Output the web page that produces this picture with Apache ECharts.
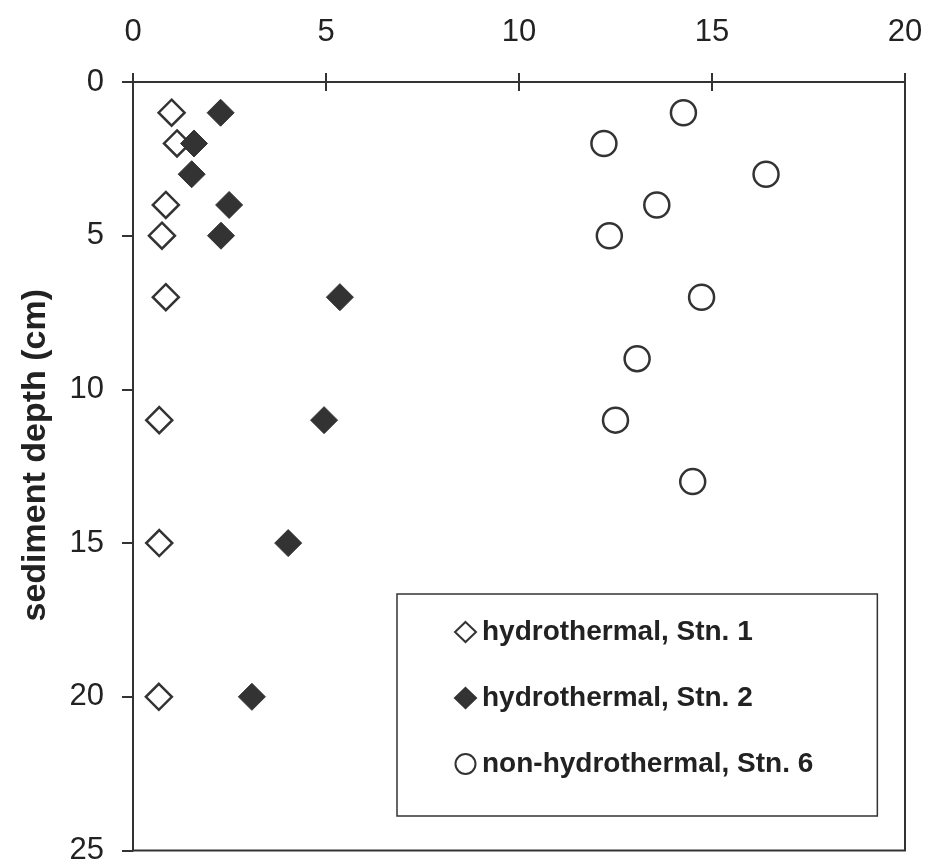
<!DOCTYPE html>
<html>
<head>
<meta charset="utf-8">
<script src="https://cdn.jsdelivr.net/npm/echarts@6/dist/echarts.min.js"></script>
<style>
html,body{margin:0;padding:0;background:#fff;}
#c{width:928px;height:866px;}
</style>
</head>
<body>
<div id="c"></div>
<script>
var xTicks = [0, 5, 10, 15, 20];
var yTicks = [0, 5, 10, 15, 20, 25];
var seriesNames = ['hydrothermal, Stn. 1', 'hydrothermal, Stn. 2', 'non-hydrothermal, Stn. 6'];
var depthStn1 = [1, 2, 4, 5, 7, 11, 15, 20];
var valueStn1 = [1.0, 1.14, 0.85, 0.75, 0.85, 0.68, 0.68, 0.67];
var depthStn2 = [1, 2, 3, 4, 5, 7, 11, 15, 20];
var valueStn2 = [2.27, 1.58, 1.52, 2.49, 2.28, 5.36, 4.95, 4.02, 3.08];
var depthStn6 = [1, 2, 3, 4, 5, 7, 9, 11, 13];
var valueStn6 = [14.26, 12.2, 16.4, 13.57, 12.34, 14.73, 13.06, 12.5, 14.5];

function pairs(vals, depths) {
  return vals.map(function (v, i) { return [v, depths[i]]; });
}

var ink = '#333';
var font = 'Liberation Sans, Arial, sans-serif';
var chart = echarts.init(document.getElementById('c'), null, {renderer: 'canvas'});
chart.setOption({
  animation: false,
  backgroundColor: '#fff',
  grid: {left: 133, top: 82, width: 772, height: 770, show: true, borderColor: ink, borderWidth: 2, backgroundColor: 'transparent'},
  xAxis: [{
    type: 'value', position: 'top', min: xTicks[0], max: xTicks[xTicks.length - 1], interval: 5,
    axisLine: {show: true, onZero: false, lineStyle: {color: ink, width: 2}},
    axisTick: {show: true, length: 9, lineStyle: {color: ink, width: 2}},
    axisLabel: {color: '#222', fontSize: 31, fontFamily: font, margin: 34},
    splitLine: {show: false}
  }, {
    type: 'value', position: 'top', min: xTicks[0], max: xTicks[xTicks.length - 1], interval: 5,
    axisLine: {show: false},
    axisTick: {show: true, inside: true, length: 9, lineStyle: {color: ink, width: 2}},
    axisLabel: {show: false},
    splitLine: {show: false}
  }],
  yAxis: {
    type: 'value', inverse: true, min: yTicks[0], max: yTicks[yTicks.length - 1], interval: 5,
    name: 'sediment depth (cm)', nameLocation: 'middle', nameGap: 80,
    nameTextStyle: {color: '#222', fontSize: 34, fontWeight: 'bold', fontFamily: font, padding: [0, 0, 0, 22]},
    axisLine: {show: true, onZero: false, lineStyle: {color: ink, width: 2}},
    axisTick: {show: true, length: 11, lineStyle: {color: ink, width: 2}},
    axisLabel: {color: '#222', fontSize: 31, fontFamily: font, margin: 29},
    splitLine: {show: false}
  },
  legend: {
    orient: 'vertical', left: 397, top: 594,
    padding: [24, 64, 38, 57],
    itemGap: 38, itemWidth: 21, itemHeight: 20,
    borderColor: ink, borderWidth: 1.5,
    textStyle: {color: '#222', fontSize: 28, fontWeight: 'bold', fontFamily: font, padding: [0, 0, 0, 1]},
    data: seriesNames
  },
  series: [{
    name: seriesNames[0], type: 'scatter', symbol: 'diamond', symbolSize: 26,
    itemStyle: {color: '#fff', borderColor: ink, borderWidth: 2.5, opacity: 1},
    data: pairs(valueStn1, depthStn1)
  }, {
    name: seriesNames[1], type: 'scatter', symbol: 'diamond', symbolSize: 27,
    itemStyle: {color: ink, borderColor: ink, borderWidth: 1, opacity: 1},
    data: pairs(valueStn2, depthStn2)
  }, {
    name: seriesNames[2], type: 'scatter', symbol: 'circle', symbolSize: 25,
    itemStyle: {color: '#fff', borderColor: ink, borderWidth: 2.5, opacity: 1},
    data: pairs(valueStn6, depthStn6)
  }]
});
</script>
</body>
</html>
